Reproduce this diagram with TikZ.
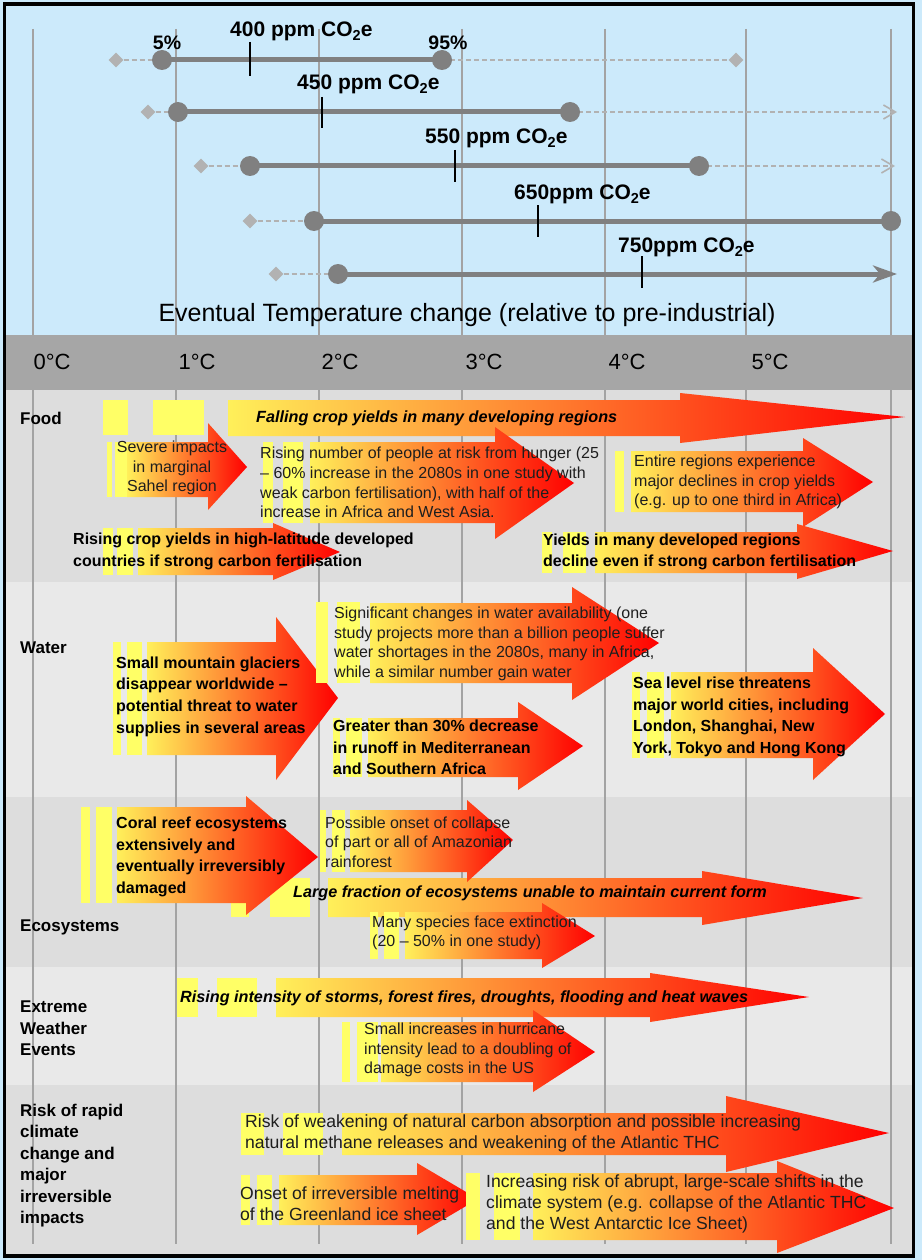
\documentclass[tikz,border=0pt]{standalone}
\usepackage{fontspec}
\setmainfont{Liberation Sans}
\usetikzlibrary{shapes.geometric,arrows.meta}
\definecolor{bgblue}{RGB}{204,234,251}
\definecolor{hdrgray}{RGB}{166,166,166}
\definecolor{rowA}{RGB}{221,221,221}
\definecolor{rowB}{RGB}{233,233,233}
\definecolor{gridgray}{RGB}{163,163,163}
\definecolor{bargray}{RGB}{128,128,128}
\definecolor{diagray}{RGB}{178,178,178}
\definecolor{hlyellow}{RGB}{255,255,102}
\definecolor{gY}{RGB}{255,240,90}
\definecolor{gO}{RGB}{255,160,60}
\definecolor{gR}{RGB}{255,0,0}
\definecolor{txtdark}{RGB}{30,30,30}
% #1 x0, #2 head x, #3 tip x, #4 body top, #5 body bottom, #6 head top, #7 head bottom, #8 tip y
\newcommand{\blockarr}[8]{\shade[left color=gY, middle color=gO, right color=gR] (#1,#4) -- (#2,#4) -- (#2,#6) -- (#3,#8) -- (#2,#7) -- (#2,#5) -- (#1,#5) -- cycle;}
\newcommand{\hlbar}[4]{\fill[hlyellow] (#1,#2) rectangle (#3,#4);}
\newcommand{\cotwo}{CO\raisebox{-0.22em}{\fontsize{14.5}{14.5}\selectfont 2}e}
\begin{document}
\begin{tikzpicture}[x=1pt,y=-1pt,
  catlbl/.style={font=\fontsize{17}{21.5}\selectfont\bfseries, anchor=west, align=left, inner sep=0},
  txtB/.style={font=\fontsize{16}{21.7}\selectfont\bfseries, anchor=west, align=left, inner sep=0},
  txtBI/.style={font=\fontsize{16.2}{20}\selectfont\bfseries\itshape, anchor=west, align=left, inner sep=0},
  txtR/.style={font=\fontsize{16}{19.6}\selectfont, text=txtdark, anchor=west, align=left, inner sep=0},
  txtRR/.style={font=\fontsize{17.6}{21}\selectfont, text=txtdark, anchor=west, align=left, inner sep=0},
  templbl/.style={font=\fontsize{22}{24}\selectfont, inner sep=0},
  ppm/.style={font=\fontsize{21}{22}\selectfont\bfseries, anchor=west, inner sep=0},
  pct/.style={font=\fontsize{19.5}{22}\selectfont\bfseries, inner sep=0},
  dot/.style={circle, fill=bargray, minimum size=20pt, inner sep=0},
  dia/.style={diamond, fill=diagray, minimum size=15pt, inner sep=0},
  barline/.style={draw=bargray, line width=5pt},
  dashl/.style={draw=diagray, line width=1.6pt, dash pattern=on 5pt off 3pt},
  tickl/.style={draw=black, line width=2pt},
  gridl/.style={draw=gridgray, line width=2.5pt}]
\useasboundingbox (0,0) rectangle (922,1260);
% backgrounds
\fill[bgblue] (0,0) rectangle (922,1260);
\fill[hdrgray] (5,335) rectangle (913,390);
\fill[rowA] (5,390) rectangle (913,582);
\fill[rowB] (5,582) rectangle (913,797);
\fill[rowA] (5,797) rectangle (913,967);
\fill[rowB] (5,967) rectangle (913,1085);
\fill[rowA] (5,1085) rectangle (913,1255);
% grid lines
\foreach \gx in {33,176,319,462,605,746,891} {
  \draw[gridl] (\gx,29) -- (\gx,335);
  \draw[gridl] (\gx,390) -- (\gx,1244);
}
% border
\draw[black, line width=3.5pt] (4.5,4) rectangle (913.5,1256);

% ---------- probability bars ----------
% row 1: 400 ppm
\node[dia] (r1l) at (116,60) {};
\node[dia] (r1r) at (736,60) {};
\draw[dashl] (r1l) -- (162,60);
\draw[dashl] (442,60) -- (r1r);
\draw[barline] (162,60) -- (442,60);
\node[dot] (r1a) at (162,60) {};
\node[dot] (r1b) at (442,60) {};
\draw[tickl] (250,42) -- (250,76);
\node[ppm] (l400) at (230,31) {400 ppm \cotwo};
\node[pct] (p5) at (167,43) {5\%};
\node[pct] (p95) at (448,43) {95\%};
% row 2: 450 ppm
\node[dia] (r2l) at (148,112) {};
\coordinate (r2e) at (897,112);
\draw[dashl] (r2l) -- (178,112);
\draw[dashl, -{Straight Barb[length=12pt,width=14pt]}] (570,112) -- (r2e);
\draw[barline] (178,112) -- (570,112);
\node[dot] (r2a) at (178,112) {};
\node[dot] (r2b) at (570,112) {};
\draw[tickl] (322,97) -- (322,128);
\node[ppm] (l450) at (297,84) {450 ppm \cotwo};
% row 3: 550 ppm
\node[dia] (r3l) at (201,166) {};
\coordinate (r3e) at (895,166);
\draw[dashl] (r3l) -- (250,166);
\draw[dashl, -{Straight Barb[length=12pt,width=14pt]}] (699,166) -- (r3e);
\draw[barline] (250,166) -- (699,166);
\node[dot] (r3a) at (250,166) {};
\node[dot] (r3b) at (699,166) {};
\draw[tickl] (455,150) -- (455,182);
\node[ppm] (l550) at (425,138) {550 ppm \cotwo};
% row 4: 650 ppm
\node[dia] (r4l) at (250,221) {};
\draw[dashl] (r4l) -- (314,221);
\draw[barline] (314,221) -- (891,221);
\node[dot] (r4a) at (314,221) {};
\node[dot] (r4b) at (891,221) {};
\draw[tickl] (538,205) -- (538,237);
\node[ppm] (l650) at (514,194) {650ppm \cotwo};
% row 5: 750 ppm
\node[dia] (r5l) at (276,274) {};
\coordinate (r5e) at (897,274);
\draw[dashl] (r5l) -- (338,274);
\draw[barline, -{Stealth[length=24pt,width=17pt,inset=7pt]}] (338,274) -- (r5e);
\node[dot] (r5a) at (338,274) {};
\draw[tickl] (642,256) -- (642,288);
\node[ppm] (l750) at (618,247) {750ppm \cotwo};
% title
\node[font=\fontsize{25}{28}\selectfont, inner sep=0] (title) at (467,315) {Eventual Temperature change (relative to pre-industrial)};
% temperature header
\node[templbl] (t0) at (52,362) {0°C};
\node[templbl] (t1) at (197,362) {1°C};
\node[templbl] (t2) at (340,362) {2°C};
\node[templbl] (t3) at (484,362) {3°C};
\node[templbl] (t4) at (627,362) {4°C};
\node[templbl] (t5) at (770,362) {5°C};

% ---------- category labels ----------
\node[catlbl] (cfood) at (20,418) {Food};
\node[catlbl] (cwater) at (20,648) {Water};
\node[catlbl] (ceco) at (20,927) {Ecosystems};
\node[catlbl] (cext) at (20,1028.5) {Extreme\\Weather\\Events};
\node[catlbl] (crisk) at (20,1165.5) {Risk of rapid\\climate\\change and\\major\\irreversible\\impacts};

% ---------- Food ----------
\hlbar{103}{400}{128}{435}\hlbar{153}{400}{204}{435}
\blockarr{228}{680}{905}{400}{436}{393}{443}{417}
\node[txtBI] (f1) at (256,418) {Falling crop yields in many developing regions};
\hlbar{107}{442}{112}{497}\hlbar{115}{442}{127}{497}
\blockarr{127}{208}{247}{442}{497}{423}{510}{467}
\node[txtR, align=center, anchor=center] (f2) at (172,468) {Severe impacts\\in marginal\\Sahel region};
\hlbar{263}{442}{273}{523}\hlbar{283}{442}{303}{523}
\blockarr{310}{495}{574}{442}{523}{427}{539}{483}
\node[txtR] (f3) at (260,482.5) {Rising number of people at risk from hunger (25\\– 60\% increase in the 2080s in one study with\\weak carbon fertilisation), with half of the\\increase in Africa and West Asia.};
\hlbar{615}{451}{624}{512}
\blockarr{631}{803}{873}{451}{512}{438}{527}{482}
\node[txtR] (f4) at (634,482) {Entire regions experience\\major declines in crop yields\\(e.g. up to one third in Africa)};
\hlbar{103}{528}{113}{575}\hlbar{117}{528}{133}{575}
\blockarr{138}{273}{340}{528}{575}{523}{580}{552}
\node[txtB] (f5) at (73,551.5) {Rising crop yields in high-latitude developed\\countries if strong carbon fertilisation};
\hlbar{542}{532}{552}{573}\hlbar{563}{532}{586}{573}
\blockarr{595}{797}{893}{532}{573}{524}{579}{551}
\node[txtB] (f6) at (543,552) {Yields in many developed regions\\decline even if strong carbon fertilisation};

% ---------- Water ----------
\hlbar{113}{642}{121}{755}\hlbar{127}{642}{142}{755}
\blockarr{147}{276}{338}{642}{755}{617}{780}{698}
\node[txtB] (w1) at (116,696.5) {Small mountain glaciers\\disappear worldwide –\\potential threat to water\\supplies in several areas};
\hlbar{316}{602}{328}{683}\hlbar{337}{602}{360}{683}
\blockarr{370}{572}{659}{603}{683}{587}{700}{643}
\node[txtR] (w2) at (334,644) {Significant changes in water availability (one\\study projects more than a billion people suffer\\water shortages in the 2080s, many in Africa,\\while a similar number gain water};
\hlbar{333}{718}{340}{777}\hlbar{346}{718}{362}{777}
\blockarr{368}{518}{583}{718}{777}{702}{790}{746}
\node[txtB] (w3) at (333,747.5) {Greater than 30\% decrease\\in runoff in Mediterranean\\and Southern Africa};
\hlbar{632}{672}{640}{758}\hlbar{647}{672}{664}{758}
\blockarr{671}{813}{885}{672}{758}{648}{780}{714}
\node[txtB] (w4) at (633,717) {Sea level rise threatens\\major world cities, including\\London, Shanghai, New\\York, Tokyo and Hong Kong};

% ---------- Ecosystems ----------
\hlbar{231}{878}{249}{917}\hlbar{270}{878}{310}{917}
\blockarr{328}{702}{863}{878}{917}{871}{925}{898}
\hlbar{81}{807}{90}{903}\hlbar{96}{807}{112}{903}
\blockarr{117}{246}{318}{807}{903}{796}{915}{857}
\node[txtB] (e1) at (116,857) {Coral reef ecosystems\\extensively and\\eventually irreversibly\\damaged};
\hlbar{320}{810}{326}{872}\hlbar{332}{810}{345}{872}
\blockarr{350}{467}{513}{810}{872}{800}{882}{840}
\node[txtR] (e2) at (325,842) {Possible onset of collapse\\of part or all of Amazonian\\rainforest};
\node[txtBI] (e3) at (293,893) {Large fraction of ecosystems unable to maintain current form};
\hlbar{370}{912}{378}{959}\hlbar{384}{912}{399}{959}
\blockarr{405}{542}{595}{912}{959}{903}{968}{936}
\node[txtR] (e4) at (372,933) {Many species face extinction\\(20 – 50\% in one study)};

% ---------- Extreme weather ----------
\hlbar{177}{978}{198}{1017}\hlbar{217}{978}{257}{1017}
\blockarr{276}{650}{809}{978}{1017}{973}{1022}{997}
\node[txtBI] (x1) at (180,998) {Rising intensity of storms, forest fires, droughts, flooding and heat waves};
\hlbar{342}{1022}{350}{1082}\hlbar{357}{1022}{378}{1082}
\blockarr{381}{533}{595}{1022}{1082}{1010}{1092}{1052}
\node[txtR] (x2) at (364,1050) {Small increases in hurricane\\intensity lead to a doubling of\\damage costs in the US};

% ---------- Risk ----------
\hlbar{241}{1113}{264}{1155}\hlbar{283}{1113}{323}{1155}
\blockarr{342}{726}{889}{1113}{1155}{1096}{1172}{1133}
\node[txtRR] (k1) at (245,1133) {Risk of weakening of natural carbon absorption and possible increasing\\natural methane releases and weakening of the Atlantic THC};
\hlbar{241}{1175}{250}{1225}\hlbar{257}{1175}{272}{1225}
\blockarr{279}{417}{478}{1175}{1225}{1163}{1235}{1199}
\node[txtRR] (k2) at (240,1204) {Onset of irreversible melting\\of the Greenland ice sheet};
\hlbar{466}{1173}{480}{1240}\hlbar{494}{1173}{520}{1240}
\blockarr{533}{777}{894}{1173}{1240}{1161}{1253}{1208}
\node[txtRR] (k3) at (486,1203.5) {Increasing risk of abrupt, large-scale shifts in the\\climate system (e.g. collapse of the Atlantic THC\\and the West Antarctic Ice Sheet)};
\end{tikzpicture}
\end{document}
